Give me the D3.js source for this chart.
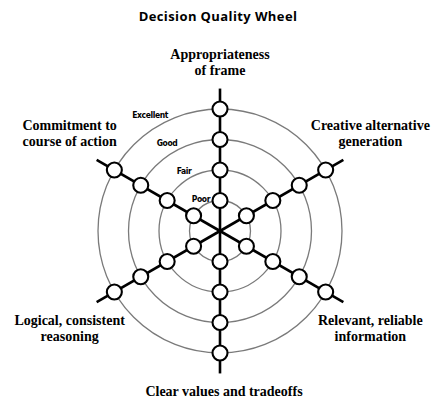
<!DOCTYPE html>
<meta charset="utf-8">
<script src="https://d3js.org/d3.v7.min.js"></script>
<style>
  body { margin: 0; background: #fff; }
</style>
<body>
<svg width="431" height="401"></svg>
<script>
    // wheel data
    var title      = 'Decision Quality Wheel';
    var categories = ['Appropriateness\nof frame', 'Creative alternative\ngeneration', 'Relevant, reliable\ninformation',
                      'Clear values and tradeoffs', 'Logical, consistent\nreasoning', 'Commitment to\ncourse of action'];
    var levels     = ['Poor', 'Fair', 'Good', 'Excellent'];
    var levelVals  = [1, 2, 3, 4];
    var spokeEnd   = 4.67;

    var cx = 220, cy = 231;
    var svg = d3.select('svg');

    var r     = d3.scaleLinear().domain([0, 4]).range([0, 122]);
    var angle = d3.scaleBand().domain(categories).range([0, 2 * Math.PI]);

    function pt(cat, v){
        var a = angle(cat);
        return [cx + r(v) * Math.sin(a), cy - r(v) * Math.cos(a)];
    }

    // rings
    svg.append('g').selectAll('circle')
        .data(levelVals)
        .enter().append('circle')
        .attr('cx', cx).attr('cy', cy)
        .attr('r', function(d){ return r(d); })
        .attr('fill', 'none')
        .attr('stroke', '#7a7a7a')
        .attr('stroke-width', 1.3);

    // spokes
    svg.append('g').selectAll('line')
        .data(categories)
        .enter().append('line')
        .attr('x1', cx).attr('y1', cy)
        .attr('x2', function(d){ return pt(d, spokeEnd)[0]; })
        .attr('y2', function(d){ return pt(d, spokeEnd)[1]; })
        .attr('stroke', '#000')
        .attr('stroke-width', 2.6);

    // nodes
    var nodes = [];
    categories.forEach(function(c){ levelVals.forEach(function(v){ nodes.push([c, v]); }); });
    svg.append('g').selectAll('circle')
        .data(nodes)
        .enter().append('circle')
        .attr('cx', function(d){ return pt(d[0], d[1])[0]; })
        .attr('cy', function(d){ return pt(d[0], d[1])[1]; })
        .attr('r', 7.5)
        .attr('fill', '#fff')
        .attr('stroke', '#000')
        .attr('stroke-width', 2.1);

    // ring labels, up-left of the top spoke
    var la = -31 * Math.PI / 180;
    svg.append('g').selectAll('text')
        .data(levels)
        .enter().append('text')
        .attr('x', function(d, i){ return cx + (r(levelVals[i]) * 1.08 + 4) * Math.sin(la); })
        .attr('y', function(d, i){ return cy - (r(levelVals[i]) * 1.08 + 4) * Math.cos(la); })
        .attr('text-anchor', 'middle')
        .attr('dominant-baseline', 'central')
        .attr('fill', '#000')
        .style('font-family', '"DejaVu Sans Condensed", "DejaVu Sans", sans-serif')
        .style('font-stretch', 'condensed')
        .style('font-weight', 'bold')
        .style('font-size', '8.5px')
        .style('letter-spacing', '-0.4px')
        .text(function(d){ return d; });

    // outer labels
    var lineH = 16;
    svg.append('g').selectAll('text')
        .data(categories)
        .enter().append('text')
        .each(function(d){
            var lines = d.split('\n');
            var a = angle(d), e = pt(d, spokeEnd);
            var sx = Math.abs(Math.sin(a)) < 0.01 ? 0 : Math.sign(Math.sin(a));
            var sy = -Math.sign(Math.cos(a));
            var x = e[0] + sx * 27 + (sx === 0 && sy > 0 ? 4 : 0);
            var yc = e[1] + sy * (lines.length * lineH / 2 + 10);
            var y0 = yc - (lines.length - 1) * lineH / 2 + 4.5;
            var t = d3.select(this)
                .attr('text-anchor', 'middle')
                .style('font-family', '"Liberation Serif", "Times New Roman", serif')
                .style('font-weight', 'bold')
                .style('font-size', '14px');
            lines.forEach(function(s, i){
                t.append('tspan').attr('x', x).attr('y', y0 + i * lineH).text(s);
            });
        });

    // title
    svg.append('text')
        .attr('x', 218).attr('y', 21)
        .attr('text-anchor', 'middle')
        .style('font-family', '"Open Sans", sans-serif')
        .style('font-weight', 'bold')
        .style('font-size', '13px')
        .style('letter-spacing', '0.4px')
        .text(title);
</script>
</body>
